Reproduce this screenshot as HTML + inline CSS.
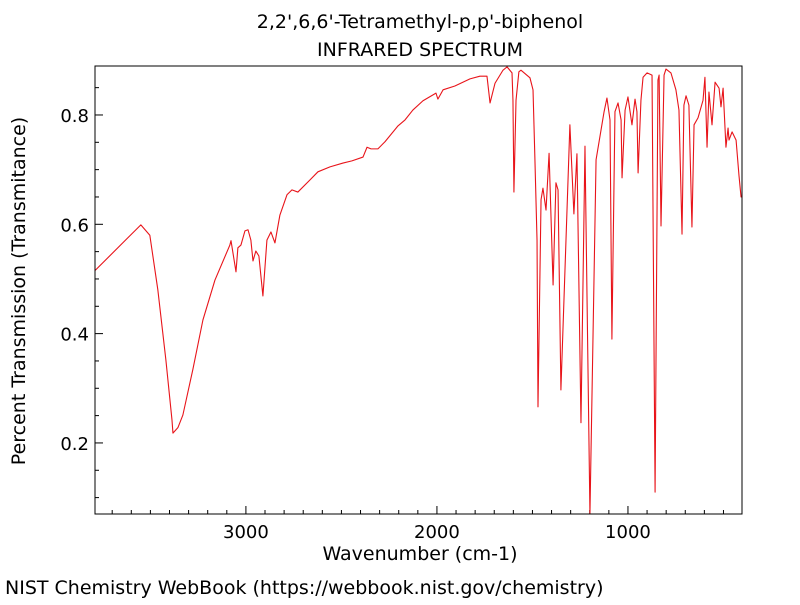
<!DOCTYPE html>
<html><head><meta charset="utf-8"><style>
body{margin:0;background:#fff;}
svg text{font-family:"DejaVu Sans","Liberation Sans",sans-serif;fill:#000;}
</style></head><body>
<svg width="800" height="600" viewBox="0 0 800 600">
<rect x="0" y="0" width="800" height="600" fill="#fff"/>
<text x="420" y="28" font-size="19" text-anchor="middle">2,2',6,6'-Tetramethyl-p,p'-biphenol</text>
<text x="420" y="56" font-size="19" text-anchor="middle">INFRARED SPECTRUM</text>
<g id="axes"></g>
<path id="spectrum" fill="none" stroke="#e8141a" stroke-width="1.1" stroke-linejoin="round"/>
<rect x="95" y="66" width="647" height="448" fill="none" stroke="#000" stroke-width="1"/>
<text x="420" y="560" font-size="19" text-anchor="middle">Wavenumber (cm-1)</text>
<text transform="translate(25,291) rotate(-90)" font-size="19" text-anchor="middle">Percent Transmission (Transmitance)</text>
<text x="5" y="594" font-size="19">NIST Chemistry WebBook (https://webbook.nist.gov/chemistry)</text>
</svg>
<script>
const wavenumbers=[3791,3550,3503,3461,3419,3387,3382,3356,3330,3278,3225,3162,3084,3078,3052,3042,3026,3005,2989,2974,2963,2948,2932,2911,2890,2869,2848,2822,2785,2759,2728,2665,2623,2560,2492,2445,2387,2366,2345,2309,2272,2204,2167,2126,2073,2005,1995,1968,1906,1827,1775,1738,1722,1696,1654,1633,1607,1602,1597,1586,1571,1560,1513,1497,1487,1476,1471,1455,1445,1429,1413,1392,1377,1366,1351,1304,1283,1267,1246,1225,1199,1167,1125,1110,1094,1084,1068,1052,1036,1031,1015,1000,979,963,953,947,932,921,900,874,858,843,837,827,811,801,775,749,733,717,707,696,681,665,654,633,607,597,586,576,560,544,523,513,502,487,476,471,455,434,419,408,403];
const transmittance=[0.515,0.599,0.580,0.480,0.352,0.242,0.218,0.228,0.251,0.334,0.425,0.498,0.562,0.570,0.513,0.557,0.562,0.588,0.590,0.571,0.533,0.551,0.542,0.469,0.571,0.586,0.566,0.617,0.654,0.663,0.659,0.681,0.696,0.705,0.712,0.716,0.723,0.741,0.738,0.738,0.751,0.780,0.791,0.809,0.826,0.840,0.829,0.846,0.853,0.866,0.871,0.871,0.822,0.858,0.882,0.888,0.877,0.827,0.659,0.827,0.879,0.882,0.868,0.846,0.718,0.571,0.266,0.645,0.666,0.626,0.730,0.489,0.676,0.663,0.297,0.782,0.619,0.729,0.237,0.743,0.070,0.718,0.806,0.831,0.791,0.390,0.806,0.822,0.791,0.685,0.809,0.833,0.782,0.829,0.806,0.694,0.827,0.869,0.877,0.873,0.110,0.864,0.873,0.597,0.873,0.884,0.877,0.846,0.809,0.582,0.818,0.835,0.818,0.595,0.782,0.795,0.827,0.869,0.741,0.842,0.782,0.860,0.849,0.815,0.849,0.741,0.776,0.754,0.769,0.754,0.690,0.650,0.650];
const xTickLabels=[3000,2000,1000];
const yTickLabels=[0.2,0.4,0.6,0.8];

const X0=95,X1=742,Y0=66,Y1=514;
const WN_L=3790,WN_R=403,T_TOP=0.8896,T_BOT=0.070;
function xs(w){return X0+(WN_L-w)/(WN_L-WN_R)*(X1-X0);}
function ys(t){return Y0+(T_TOP-t)/(T_TOP-T_BOT)*(Y1-Y0);}
const NS="http://www.w3.org/2000/svg";
const axes=document.getElementById('axes');
function line(x1,y1,x2,y2,name){const l=document.createElementNS(NS,'line');
l.setAttribute('x1',x1);l.setAttribute('y1',y1);l.setAttribute('x2',x2);l.setAttribute('y2',y2);
l.setAttribute('stroke','#000');l.setAttribute('stroke-width','1');


axes.appendChild(l);}
function text(x,y,s,anchor,name){const t=document.createElementNS(NS,'text');
t.setAttribute('x',x);t.setAttribute('y',y);t.setAttribute('font-size','18');t.setAttribute('text-anchor',anchor);t.textContent=s;


axes.appendChild(t);}
for(let w=3700;w>=500;w-=100){const x=xs(w);const major=w%1000===0;line(x,Y1,x,Y1-(major?8:4),'x-tick');}
xTickLabels.forEach(w=>text(xs(w),538,String(w),'middle','x-tick-label'));
for(let k=2;k<=17;k++){const t=k*0.05;const y=ys(t);if(y<Y0||y>Y1)continue;const major=(k%4===0);line(X0,y,X0+(major?8:4),y,'y-tick');}
yTickLabels.forEach(t=>text(89,ys(t)+7,t.toFixed(1),'end','y-tick-label'));
let d='';
for(let i=0;i<wavenumbers.length;i++){d+=(i?'L':'M')+xs(wavenumbers[i]).toFixed(2)+','+ys(transmittance[i]).toFixed(2);}
document.getElementById('spectrum').setAttribute('d',d);
</script>
</body></html>
